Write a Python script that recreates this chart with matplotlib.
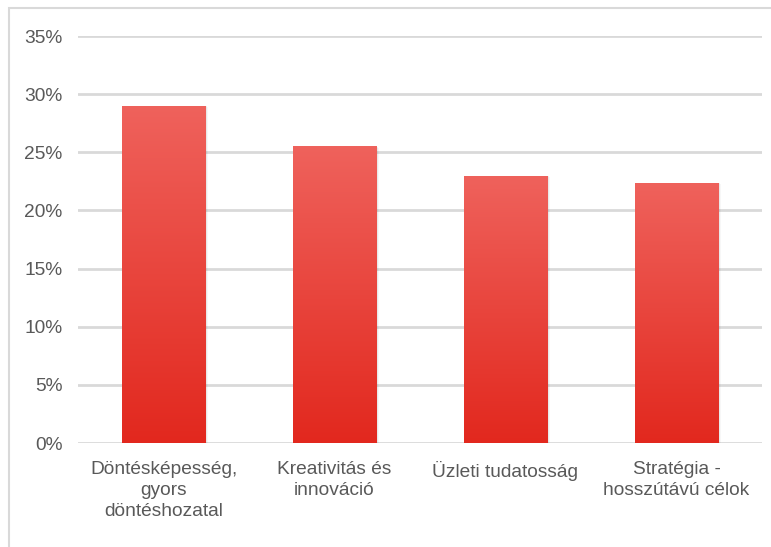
import matplotlib
matplotlib.use("Agg")
import matplotlib.pyplot as plt
import numpy as np
from matplotlib.colors import LinearSegmentedColormap
from matplotlib.patches import Rectangle
from matplotlib.ticker import FuncFormatter, MultipleLocator

categories = ["Döntésképesség,\ngyors\ndöntéshozatal", "Kreativitás és\ninnováció",
              "Üzleti tudatosság", "Stratégia -\nhosszútávú célok"]
values = [0.29, 0.255, 0.23, 0.224]

plt.rcParams['font.family'] = ['Liberation Sans', 'DejaVu Sans']
text_color = "#595959"
grid_color = "#d9d9d9"

fig = plt.figure(figsize=(7.71, 5.47), dpi=100)
# outer chart frame
fig.add_artist(Rectangle((9 / 771, -0.1), 1.2, (547 - 8) / 547 + 0.1, transform=fig.transFigure,
                         fill=False, edgecolor="#d9d9d9", linewidth=1.5))

ax = fig.add_axes([78 / 771, (547 - 443) / 547, (762 - 78) / 771, (443 - 36) / 547])
ax.set_xlim(-0.5, len(categories) - 0.5)
ax.set_ylim(0, 0.35)
ax.yaxis.set_major_locator(MultipleLocator(0.05))
ax.yaxis.set_major_formatter(FuncFormatter(lambda v, p: f"{v * 100:.0f}%"))
ax.grid(axis="y", color=grid_color, linewidth=2)
ax.set_axisbelow(True)
for s in ax.spines.values():
    s.set_visible(False)
ax.tick_params(axis="both", length=0, labelsize=13.8, colors=text_color)
ax.tick_params(axis="y", pad=11)
ax.tick_params(axis="x", pad=13)
ax.set_xticks(range(len(categories)))
ax.set_xticklabels(categories, linespacing=1.3)

cmap = LinearSegmentedColormap.from_list("barfill", ["#e2281e", "#ef625c"])
gradient = np.linspace(0, 1, 256).reshape(-1, 1)
width = 0.49
for i, v in enumerate(values):
    # soft shadow to the right of each bar
    for k, a in enumerate([0.10, 0.06, 0.03]):
        off = 0.006 + 0.006 * k
        ax.add_patch(Rectangle((i - width / 2 + off, 0), width, v - 0.0005 * k,
                               facecolor="#000000", alpha=a, edgecolor="none", zorder=2))
    bar = ax.bar(i, v, width=width, color="#e83a30", zorder=3)[0]
    im = ax.imshow(gradient, cmap=cmap, aspect="auto", origin="lower",
                   extent=(i - width / 2, i + width / 2, 0, v), zorder=4)
    im.set_clip_path(bar)

ax.set_xlim(-0.5, len(categories) - 0.5)
ax.set_ylim(0, 0.35)

fig.savefig("out.png", dpi=100)
